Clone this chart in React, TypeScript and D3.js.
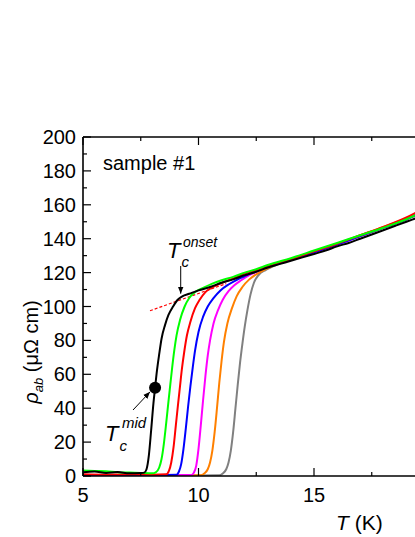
import React, { useEffect, useRef } from 'react';
import * as d3 from 'd3';

// rho_ab (uOhm cm) vs T (K)
const black = [[5.0,2.2],[5.5,2.6],[6.0,1.8],[6.5,2.3],[7.0,1.6],[7.5,1.8],[7.65,2.0],[7.75,4],[7.85,12],[7.95,27],[8.05,43],[8.12,52],[8.2,62],[8.3,72],[8.4,81],[8.55,89],[8.7,95],[8.9,100],[9.1,104],[9.3,106],[9.6,107.5],[10,109.5],[10.5,111.5],[11,114],[11.5,116],[12,118.5],[12.5,120.5],[13,123],[13.5,125],[14,127],[14.5,129],[15,131],[15.5,133],[16,135.5],[16.5,137.5],[17,140],[17.5,142.5],[18,145],[18.5,147.5],[19,150],[19.5,152.5]];
const green = [[5.0,3.2],[5.5,3.0],[6.0,2.8],[6.5,2.2],[7.0,2.0],[7.5,1.8],[8.0,1.6],[8.15,2.2],[8.3,5],[8.4,10],[8.5,19],[8.6,31],[8.7,44],[8.78,54],[8.86,64],[8.95,74],[9.05,83],[9.2,92],[9.4,100],[9.6,105],[9.85,108.5],[10.2,111],[10.6,113.5],[11,115.5],[11.5,117.5],[12,120],[12.5,122],[13,124.5],[14,128.5],[15,133],[16,137.5],[17,142],[18,146.5],[19,151.5],[19.5,154.5]];
const red = [[5,1],[6,0.8],[7,0.9],[8,0.8],[8.6,1],[8.72,3],[8.82,8],[8.92,17],[9.02,30],[9.12,43],[9.2,53],[9.28,63],[9.38,73],[9.5,83],[9.65,91],[9.85,99],[10.05,104],[10.3,108.5],[10.7,112],[11.2,115],[11.6,117],[12,119.5],[12.5,121.5],[13,124],[14,128],[15,132.5],[16,137],[17,142],[18,147],[19,152.5],[19.5,156]];
const blue = [[5,0.6],[6,0.5],[7,0.6],[8,0.5],[9.05,0.7],[9.15,2.5],[9.25,7],[9.35,16],[9.45,28],[9.55,41],[9.65,53],[9.75,64],[9.85,74],[10.0,85],[10.2,94],[10.4,100],[10.65,105],[10.95,109.5],[11.3,113],[11.7,116],[12.1,118.5],[12.5,121],[13,123.5],[14,127.5],[15,132],[16,136.5],[17,141.5],[18,146.5],[19,151.5],[19.5,154.5]];
const magenta = [[5,0.4],[6,0.4],[7,0.5],[8,0.4],[9,0.5],[9.7,0.6],[9.8,2],[9.9,6],[10.0,16],[10.1,30],[10.2,45],[10.3,59],[10.4,71],[10.5,80],[10.65,90],[10.85,98],[11.05,104],[11.3,109],[11.55,112.5],[11.85,115.5],[12.2,118.5],[12.6,121],[13,123.5],[14,127.5],[15,132],[16,136.5],[17,141.5],[18,146.5],[19,151.5],[19.5,154.5]];
const orange = [[5,0.3],[7,0.3],[9,0.3],[10.1,0.4],[10.25,1.5],[10.4,4],[10.5,8],[10.6,15],[10.7,26],[10.8,40],[10.9,55],[11.0,68],[11.1,79],[11.25,90],[11.45,99],[11.65,106],[11.9,111.5],[12.2,116],[12.5,119],[12.9,122],[13.3,124.5],[14,128],[15,132.5],[16,137],[17,142],[18,147],[19,152],[19.5,155]];
const gray = [[5,0.3],[8,0.3],[10,0.3],[10.9,0.4],[11.05,1.5],[11.2,4],[11.3,8],[11.4,15],[11.5,26],[11.6,40],[11.7,54],[11.8,67],[11.9,78],[12.0,88],[12.12,98],[12.25,107],[12.4,114],[12.6,118.5],[12.9,121.5],[13.2,123.5],[14,128],[15,132.5],[16,137],[17,141.5],[18,146.5],[19,151.5],[19.5,154]];

const series = [
  { name: 'gray', color: '#808080', data: gray },
  { name: 'orange', color: '#ff8000', data: orange },
  { name: 'magenta', color: '#ff00ff', data: magenta },
  { name: 'blue', color: '#0000ff', data: blue },
  { name: 'red', color: '#ff0000', data: red },
  { name: 'green', color: '#00ff00', data: green },
  { name: 'black', color: '#000000', data: black },
];

const onsetLine = [[7.9, 97.5], [11.2, 113.5]];
const midPoint = [8.12, 52];
const onsetPoint = [9.23, 107];

const xTicks = [5, 10, 15, 20];
const yTicks = [0, 20, 40, 60, 80, 100, 120, 140, 160, 180, 200];

const W = 415;
const H = 537;
const FONT = '"Liberation Sans", Arial, sans-serif';

export default function App() {
  const ref = useRef<SVGSVGElement>(null);

  useEffect(() => {
    const svg = d3.select(ref.current);
    svg.selectAll('*').remove();

    const x = d3.scaleLinear().domain([5, 20]).range([83, 429.5]);
    const y = d3.scaleLinear().domain([0, 200]).range([476, 137]);
    const [x0, x1] = x.range();
    const [y0, y1] = y.range();

    const defs = svg.append('defs');
    defs.append('clipPath').attr('id', 'plot')
      .append('rect').attr('x', x0).attr('y', y1).attr('width', x1 - x0).attr('height', y0 - y1);
    defs.append('marker')
      .attr('id', 'arrow').attr('viewBox', '0 0 10 10').attr('refX', 10).attr('refY', 5)
      .attr('markerWidth', 7).attr('markerHeight', 7).attr('orient', 'auto')
      .append('path').attr('d', 'M0,1 L10,5 L0,9 z').attr('fill', '#000');

    const line = d3.line<number[]>()
      .x(d => x(d[0]))
      .y(d => y(d[1]))
      .curve(d3.curveMonotoneX);

    const g = svg.append('g').attr('clip-path', 'url(#plot)');

    g.append('path')
      .datum(onsetLine)
      .attr('d', d3.line<number[]>().x(d => x(d[0])).y(d => y(d[1])))
      .attr('fill', 'none').attr('stroke', '#ff0000').attr('stroke-width', 1.2)
      .attr('stroke-dasharray', '3,2');

    series.forEach(s => {
      g.append('path')
        .datum(s.data)
        .attr('d', line)
        .attr('fill', 'none')
        .attr('stroke', s.color)
        .attr('stroke-width', 2);
    });

    // axes frame
    const axisW = 1.6;
    svg.append('line').attr('x1', x0).attr('x2', x0).attr('y1', y1).attr('y2', y0)
      .attr('stroke', '#000').attr('stroke-width', axisW);
    svg.append('line').attr('x1', x0).attr('x2', x1).attr('y1', y0).attr('y2', y0)
      .attr('stroke', '#000').attr('stroke-width', axisW);
    svg.append('line').attr('x1', x0).attr('x2', x1).attr('y1', y1).attr('y2', y1)
      .attr('stroke', '#000').attr('stroke-width', axisW);

    // ticks (inward)
    const xMinor = d3.range(7.5, 20, 5);
    const yMinor = d3.range(10, 200, 20);
    xTicks.forEach(t => {
      svg.append('line').attr('x1', x(t)).attr('x2', x(t)).attr('y1', y0).attr('y2', y0 - 8)
        .attr('stroke', '#000').attr('stroke-width', 1.2);
      svg.append('line').attr('x1', x(t)).attr('x2', x(t)).attr('y1', y1).attr('y2', y1 + 8)
        .attr('stroke', '#000').attr('stroke-width', 1.2);
      if (x(t) < W - 10) {
        svg.append('text').attr('x', x(t)).attr('y', y0 + 26).attr('text-anchor', 'middle')
          .attr('font-family', FONT).attr('font-size', 20).text(t);
      }
    });
    xMinor.forEach(t => {
      svg.append('line').attr('x1', x(t)).attr('x2', x(t)).attr('y1', y0).attr('y2', y0 - 4)
        .attr('stroke', '#000').attr('stroke-width', 1.2);
      svg.append('line').attr('x1', x(t)).attr('x2', x(t)).attr('y1', y1).attr('y2', y1 + 4)
        .attr('stroke', '#000').attr('stroke-width', 1.2);
    });
    yTicks.forEach(t => {
      svg.append('line').attr('x1', x0).attr('x2', x0 + 8).attr('y1', y(t)).attr('y2', y(t))
        .attr('stroke', '#000').attr('stroke-width', 1.2);
      svg.append('text').attr('x', x0 - 7).attr('y', y(t) + 7).attr('text-anchor', 'end')
        .attr('font-family', FONT).attr('font-size', 20).text(t);
    });
    yMinor.forEach(t => {
      svg.append('line').attr('x1', x0).attr('x2', x0 + 4).attr('y1', y(t)).attr('y2', y(t))
        .attr('stroke', '#000').attr('stroke-width', 1.2);
    });

    // axis titles
    const yl = svg.append('text')
      .attr('transform', 'translate(38,352) rotate(-90)')
      .attr('text-anchor', 'middle').attr('font-family', FONT).attr('font-size', 20);
    yl.append('tspan').attr('font-style', 'italic').text('ρ');
    yl.append('tspan').attr('font-style', 'italic').attr('font-size', 13).attr('dy', 5).text('ab');
    yl.append('tspan').attr('dy', -5).text(' (μΩ cm)');

    const xl = svg.append('text').attr('x', 336).attr('y', 530)
      .attr('font-family', FONT).attr('font-size', 21);
    xl.append('tspan').attr('font-style', 'italic').text('T');
    xl.append('tspan').text(' (K)');

    svg.append('text').attr('x', 103).attr('y', 170)
      .attr('font-family', FONT).attr('font-size', 20).text('sample #1');

    // Tc onset annotation
    const onset = svg.append('text').attr('x', 167).attr('y', 258)
      .attr('font-family', FONT).attr('font-style', 'italic').attr('font-size', 22);
    onset.append('tspan').text('T');
    onset.append('tspan').attr('font-size', 15).attr('dy', 9).attr('dx', 1).text('c');
    onset.append('tspan').attr('font-size', 14).attr('dy', -20).attr('dx', -6).text('onset');
    svg.append('line')
      .attr('x1', x(onsetPoint[0])).attr('x2', x(onsetPoint[0]))
      .attr('y1', 266).attr('y2', y(onsetPoint[1]) - 1)
      .attr('stroke', '#000').attr('stroke-width', 1).attr('marker-end', 'url(#arrow)');

    // Tc mid annotation
    const mid = svg.append('text').attr('x', 105).attr('y', 441)
      .attr('font-family', FONT).attr('font-style', 'italic').attr('font-size', 22);
    mid.append('tspan').text('T');
    mid.append('tspan').attr('font-size', 15).attr('dy', 10).attr('dx', 1).text('c');
    mid.append('tspan').attr('font-size', 15).attr('dy', -23).attr('dx', -5).text('mid');
    svg.append('line')
      .attr('x1', 133).attr('y1', 410)
      .attr('x2', x(midPoint[0]) - 5).attr('y2', y(midPoint[1]) + 4)
      .attr('stroke', '#000').attr('stroke-width', 1).attr('marker-end', 'url(#arrow)');
    svg.append('circle').attr('cx', x(midPoint[0])).attr('cy', y(midPoint[1])).attr('r', 6)
      .attr('fill', '#000');
  }, []);

  return (
    <div style={{ position: 'absolute', left: 0, top: 0, width: W, height: H, background: '#fff' }}>
      <svg ref={ref} width={W} height={H} style={{ display: 'block' }} />
    </div>
  );
}
